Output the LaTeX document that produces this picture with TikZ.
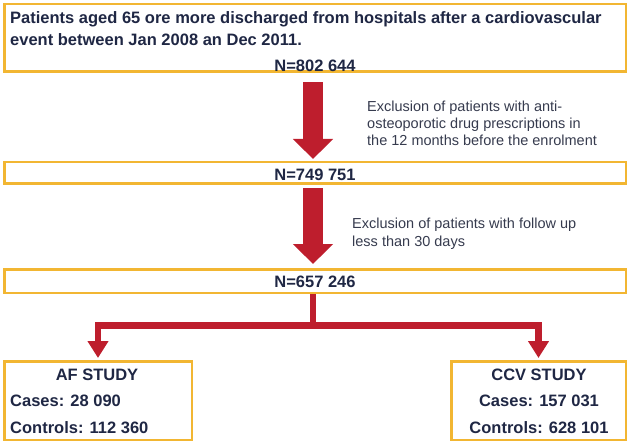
\documentclass[tikz,border=0pt]{standalone}
\usepackage{fontspec}
\setmainfont{Liberation Sans}
\usetikzlibrary{arrows.meta}
\definecolor{boxyellow}{HTML}{F2B632}
\definecolor{arrowred}{HTML}{BE1E2D}
\definecolor{textnavy}{HTML}{1F2744}
\definecolor{textgray}{HTML}{363B4E}
\tikzset{
 box/.style={draw=boxyellow, line width=2.5pt, inner sep=0pt, fill=white},
 boldtxt/.style={font=\fontsize{16.5}{20}\selectfont\bfseries, text=textnavy, inner sep=0pt},
 note/.style={font=\fontsize{14.5}{17}\selectfont, text=textgray, inner sep=0pt, anchor=base west},
 bigarrow/.style={draw=arrowred, line width=20pt, -{Triangle[width=39pt,length=20pt]}},
 branch/.style={draw=arrowred, line width=6.5pt, -{Triangle[width=20pt,length=17pt]}},
}
\begin{document}
\begin{tikzpicture}[x=1pt,y=-1pt]
\useasboundingbox (0,0) rectangle (631,446);
% boxes
\node[box, minimum width=621.5pt, minimum height=67.5pt] (top) at (315,38) {};
\node[box, minimum width=621.5pt, minimum height=21.5pt] (b2) at (315,173) {};
\node[box, minimum width=621.5pt, minimum height=23.5pt] (b3) at (315,281) {};
\node[box, minimum width=187.5pt, minimum height=78.5pt] (af) at (98,400.5) {};
\node[box, minimum width=174.5pt, minimum height=78.5pt] (ccv) at (538.5,400.5) {};
% texts
\node[boldtxt, anchor=base west] (t1) at (10,24) {Patients aged 65 ore more discharged from hospitals after a cardiovascular};
\node[boldtxt, anchor=base west] (t2) at (10,46) {event between Jan 2008 an Dec 2011.};
\node[boldtxt, anchor=base] (n1) at (315,72) {N=802 644};
\node[boldtxt, anchor=base] (n2) at (315,181) {N=749 751};
\node[boldtxt, anchor=base] (n3) at (315,287) {N=657 246};
\node[note] (e1a) at (367,112) {Exclusion of patients with anti-};
\node[note] (e1b) at (367,129) {osteoporotic drug prescriptions in};
\node[note] (e1c) at (367,146) {the 12 months before the enrolment};
\node[note] (e2a) at (352,229) {Exclusion of patients with follow up};
\node[note] (e2b) at (352,247) {less than 30 days};
\node[boldtxt, anchor=base] (af1) at (97,380) {AF STUDY};
\node[boldtxt, anchor=base west] (af2) at (10,406) {Cases: 28 090};
\node[boldtxt, anchor=base west] (af3) at (10,433) {Controls: 112 360};
\node[boldtxt, anchor=base] (cc1) at (539,380) {CCV STUDY};
\node[boldtxt, anchor=base] (cc2) at (539,406) {Cases: 157 031};
\node[boldtxt, anchor=base] (cc3) at (539,433) {Controls: 628 101};
% arrows
\draw[bigarrow, shorten <=9.25pt, shorten >=2pt] ([xshift=-2pt]top.south) -- ([xshift=-2pt]b2.north);
\draw[bigarrow, shorten <=3.25pt, shorten >=4pt] ([xshift=-2pt]b2.south) -- ([xshift=-2pt]b3.north);
\coordinate (split) at (313,325.5);
\draw[branch, shorten >=2pt] (b3.south -| split) -- (split) -| (af.north);
\draw[branch, shorten >=2pt] (b3.south -| split) -- (split) -| (ccv.north);
\end{tikzpicture}
\end{document}
